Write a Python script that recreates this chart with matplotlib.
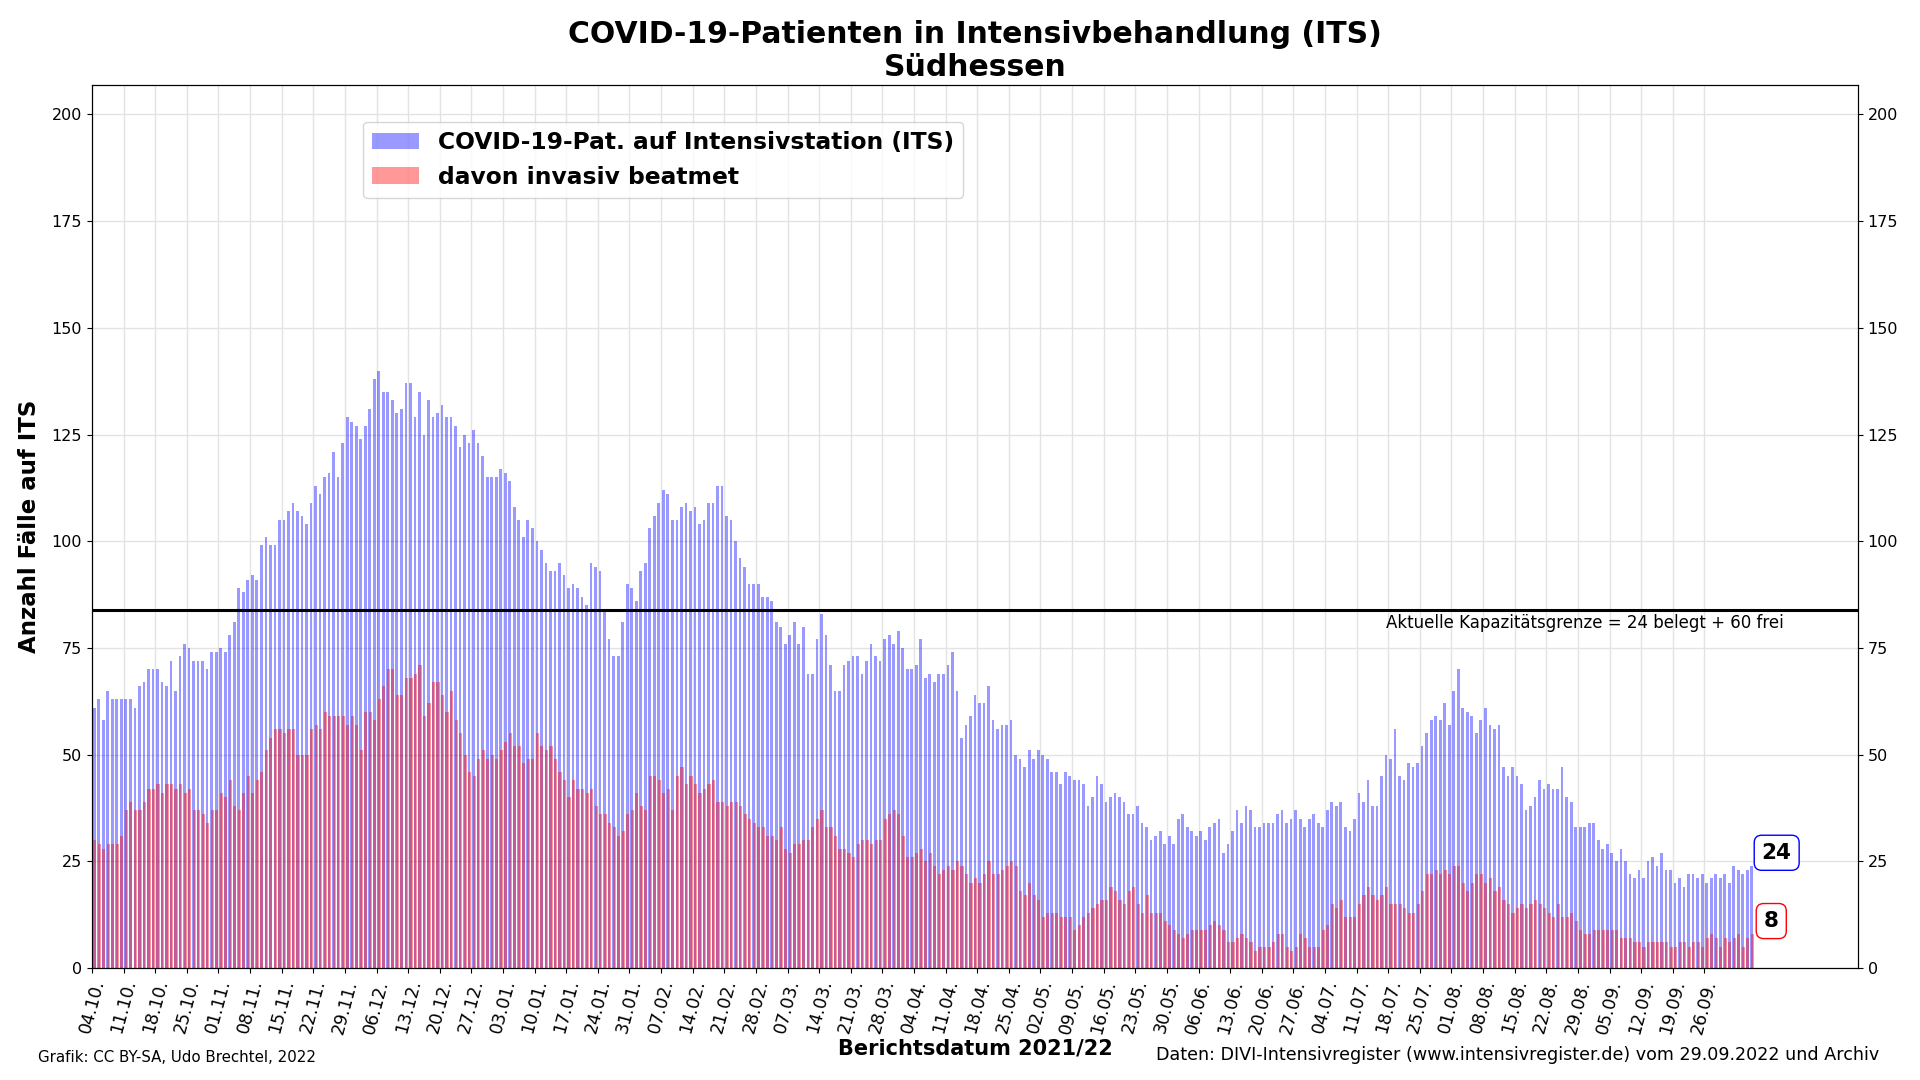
import matplotlib
matplotlib.use("Agg")
import matplotlib.pyplot as plt
import numpy as np
import pandas as pd

START = "2021-10-04"

# COVID-19 patients in ICU, daily from 04.10.2021
its = [
    61, 63, 58, 65, 63, 63, 63, 63, 63, 61,
    66, 67, 70, 70, 70, 67, 66, 72, 65, 73,
    76, 75, 72, 72, 72, 70, 74, 74, 75, 74,
    78, 81, 89, 88, 91, 92, 91, 99, 101, 99,
    99, 105, 105, 107, 109, 107, 106, 104, 109, 113,
    111, 115, 116, 121, 115, 123, 129, 128, 127, 124,
    127, 131, 138, 140, 135, 135, 133, 130, 131, 137,
    137, 129, 135, 125, 133, 129, 130, 132, 129, 129,
    127, 122, 125, 123, 126, 123, 120, 115, 115, 115,
    117, 116, 114, 108, 105, 101, 105, 103, 100, 98,
    95, 93, 93, 95, 92, 89, 90, 89, 87, 85,
    95, 94, 93, 84, 77, 73, 73, 81, 90, 89,
    86, 93, 95, 103, 106, 109, 112, 111, 105, 105,
    108, 109, 107, 108, 104, 105, 109, 109, 113, 113,
    106, 105, 100, 96, 94, 90, 90, 90, 87, 87,
    86, 81, 80, 76, 78, 81, 76, 80, 69, 69,
    77, 83, 78, 71, 65, 65, 71, 72, 73, 73,
    69, 72, 76, 73, 72, 77, 78, 76, 79, 75,
    70, 70, 71, 77, 68, 69, 67, 69, 69, 71,
    74, 65, 54, 57, 59, 64, 62, 62, 66, 58,
    56, 57, 57, 58, 50, 49, 47, 51, 49, 51,
    50, 49, 46, 46, 43, 46, 45, 44, 44, 43,
    38, 40, 45, 43, 39, 40, 41, 40, 39, 36,
    36, 38, 34, 33, 30, 31, 32, 29, 31, 29,
    35, 36, 33, 32, 31, 32, 30, 33, 34, 35,
    27, 29, 32, 37, 34, 38, 37, 33, 33, 34,
    34, 34, 36, 37, 34, 35, 37, 35, 33, 35,
    36, 34, 33, 37, 39, 38, 39, 33, 32, 35,
    41, 39, 44, 38, 38, 45, 50, 49, 56, 45,
    44, 48, 47, 48, 52, 55, 58, 59, 58, 62,
    57, 65, 70, 61, 60, 59, 55, 58, 61, 57,
    56, 57, 47, 45, 47, 45, 43, 37, 38, 40,
    44, 42, 43, 42, 42, 47, 40, 39, 33, 33,
    33, 34, 34, 30, 28, 29, 27, 25, 28, 25,
    22, 21, 23, 21, 25, 26, 24, 27, 23, 23,
    20, 21, 19, 22, 22, 21, 22, 20, 21, 22,
    21, 22, 20, 24, 23, 22, 23, 24,
]

# of which invasively ventilated
beatmet = [
    30, 29, 28, 29, 29, 29, 31, 37, 39, 37,
    37, 39, 42, 42, 43, 41, 43, 43, 42, 43,
    41, 42, 37, 37, 36, 34, 37, 37, 41, 40,
    44, 38, 37, 41, 45, 41, 44, 46, 51, 54,
    56, 56, 55, 56, 56, 50, 50, 50, 56, 57,
    56, 60, 59, 59, 59, 59, 57, 59, 57, 51,
    60, 60, 58, 63, 66, 70, 70, 64, 64, 68,
    68, 69, 71, 59, 62, 67, 67, 64, 60, 65,
    58, 55, 50, 46, 45, 49, 51, 49, 50, 49,
    51, 53, 55, 52, 52, 48, 49, 49, 55, 52,
    51, 52, 49, 46, 44, 40, 44, 42, 42, 41,
    42, 38, 36, 36, 34, 33, 31, 32, 36, 37,
    41, 38, 37, 45, 45, 44, 41, 42, 37, 45,
    47, 43, 45, 43, 41, 42, 43, 44, 39, 39,
    38, 39, 39, 38, 36, 35, 34, 33, 33, 31,
    31, 30, 33, 28, 27, 29, 29, 30, 30, 33,
    35, 37, 33, 33, 31, 28, 28, 27, 26, 29,
    30, 30, 29, 30, 30, 35, 36, 37, 36, 31,
    26, 26, 27, 28, 25, 27, 24, 22, 23, 24,
    23, 25, 24, 22, 20, 21, 20, 22, 25, 22,
    22, 23, 24, 25, 24, 18, 17, 20, 17, 16,
    12, 13, 13, 13, 12, 12, 12, 9, 10, 12,
    13, 14, 15, 16, 16, 19, 18, 16, 15, 18,
    19, 15, 13, 17, 13, 13, 13, 11, 10, 9,
    8, 7, 8, 9, 9, 9, 9, 10, 11, 10,
    9, 6, 6, 7, 8, 7, 6, 4, 5, 5,
    5, 6, 8, 8, 5, 4, 5, 8, 7, 5,
    5, 5, 9, 10, 15, 14, 16, 12, 12, 12,
    15, 17, 19, 17, 16, 17, 19, 15, 15, 15,
    14, 13, 13, 15, 18, 22, 22, 23, 22, 23,
    22, 24, 24, 20, 18, 20, 22, 22, 20, 21,
    18, 19, 16, 15, 13, 14, 15, 14, 15, 16,
    15, 14, 13, 12, 15, 12, 12, 13, 11, 9,
    8, 8, 9, 9, 9, 9, 9, 9, 7, 7,
    7, 6, 6, 5, 6, 6, 6, 6, 6, 5,
    5, 6, 6, 5, 6, 6, 5, 7, 8, 7,
    5, 7, 6, 7, 8, 5, 7, 8,
]

kap_belegt = 24
kap_frei = 60

dates = pd.date_range(START, periods=len(its), freq="D")
x = np.arange(len(its))

fig = plt.figure(figsize=(19.2, 10.8), dpi=100)
ax = fig.add_axes([0.0479, 0.1037, 0.9198, 0.818])

ax.bar(x + 0.5, its, width=0.6, color="blue", alpha=0.4, zorder=2,
       label="COVID-19-Pat. auf Intensivstation (ITS)")
ax.bar(x + 0.62, beatmet, width=0.7, color="red", alpha=0.4, zorder=3,
       label="davon invasiv beatmet")

kap = kap_belegt + kap_frei
ax.axhline(kap, color="black", linewidth=2.2, zorder=4)
ax.text(374.5, kap - 1.0,
        f"Aktuelle Kapazitätsgrenze = {kap_belegt} belegt + {kap_frei} frei",
        ha="right", va="top", fontsize=12, zorder=5)

ax.text(373, its[-1] + 3, f"{its[-1]}", ha="center", va="center",
        fontsize=15.5, fontweight="bold", zorder=5,
        bbox=dict(boxstyle="round,pad=0.35", fc="white", ec="blue", lw=1))
ax.text(371.8, beatmet[-1] + 3, f"{beatmet[-1]}", ha="center", va="center",
        fontsize=15.5, fontweight="bold", zorder=5,
        bbox=dict(boxstyle="round,pad=0.35", fc="white", ec="red", lw=1))

ax.set_xlim(0, 391)
ax.set_ylim(0, 207)
ticks = x[:358:7]
ax.set_xticks(ticks)
ax.set_xticklabels(dates[:358:7].strftime("%d.%m."), rotation=75, ha="center",
                   fontsize=12.5)
ax.set_yticks(range(0, 201, 25))
ax.tick_params(axis="y", labelsize=11.5)
ax.grid(True, color="#e3e3e3", linewidth=1, zorder=0)
ax.set_axisbelow(True)

ax2 = ax.twinx()
ax2.set_ylim(ax.get_ylim())
ax2.set_yticks(range(0, 201, 25))
ax2.tick_params(axis="y", labelsize=11.5)

ax.set_title("COVID-19-Patienten in Intensivbehandlung (ITS)\nSüdhessen",
             fontsize=21.5, fontweight="bold", pad=6, linespacing=1.2)
ax.set_ylabel("Anzahl Fälle auf ITS", fontsize=16.5, fontweight="bold", labelpad=8)
ax.set_xlabel("Berichtsdatum 2021/22", fontsize=15, fontweight="bold", labelpad=2)

ax.legend(loc="upper left", bbox_to_anchor=(0.1535, 0.958), borderaxespad=0,
          prop={"weight": "bold", "size": 16.8}, handlelength=2.0)

fig.text(0.02, 0.021, "Grafik: CC BY-SA, Udo Brechtel, 2022", fontsize=10.8,
         va="center")
fig.text(0.979, 0.023,
         "Daten: DIVI-Intensivregister (www.intensivregister.de) vom 29.09.2022 und Archiv",
         fontsize=12.6, ha="right", va="center")

fig.savefig("out.png", dpi=100, facecolor="white")
